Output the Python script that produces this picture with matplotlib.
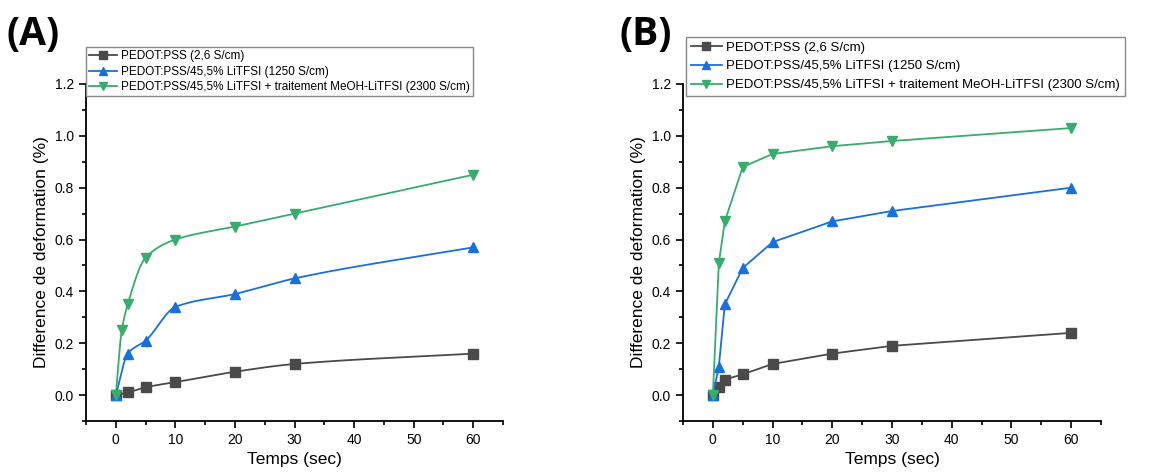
import numpy as np
import matplotlib
matplotlib.use("Agg")
import matplotlib.pyplot as plt
from matplotlib.ticker import MultipleLocator

plt.rcParams['font.family'] = ['Liberation Sans', 'DejaVu Sans']

labels = ["PEDOT:PSS (2,6 S/cm)",
          "PEDOT:PSS/45,5% LiTFSI (1250 S/cm)",
          "PEDOT:PSS/45,5% LiTFSI + traitement MeOH-LiTFSI (2300 S/cm)"]
colors = ['#4a4a4a', '#1a6fdf', '#37ad6b']
markers = ['s', '^', 'v']

# panel A
a_t_pss = [0, 2, 5, 10, 20, 30, 60]
a_pss = [0.0, 0.01, 0.03, 0.05, 0.09, 0.12, 0.16]
a_t_li = [0, 2, 5, 10, 20, 30, 60]
a_li = [0.0, 0.16, 0.21, 0.34, 0.39, 0.45, 0.57]
a_t_meoh = [0, 1, 2, 5, 10, 20, 30, 60]
a_meoh = [0.0, 0.25, 0.35, 0.53, 0.60, 0.65, 0.70, 0.85]

# panel B
b_t = [0, 1, 2, 5, 10, 20, 30, 60]
b_pss = [0.0, 0.03, 0.06, 0.08, 0.12, 0.16, 0.19, 0.24]
b_li = [0.0, 0.11, 0.35, 0.49, 0.59, 0.67, 0.71, 0.80]
b_meoh = [0.0, 0.51, 0.67, 0.88, 0.93, 0.96, 0.98, 1.03]


def pchip(x, y, xs):
    # monotone cubic, only used to draw the smooth line of panel A
    x = np.asarray(x, float)
    y = np.asarray(y, float)
    h = np.diff(x)
    d = np.diff(y) / h
    m = np.zeros_like(y)
    for k in range(1, len(x) - 1):
        if d[k - 1] * d[k] > 0:
            w1 = 2 * h[k] + h[k - 1]
            w2 = h[k] + 2 * h[k - 1]
            m[k] = (w1 + w2) / (w1 / d[k - 1] + w2 / d[k])
    m[0] = d[0]
    m[-1] = d[-1]
    out = np.empty_like(xs)
    for i, v in enumerate(xs):
        k = min(np.searchsorted(x, v, side='right') - 1, len(x) - 2)
        t = (v - x[k]) / h[k]
        h00 = 2 * t**3 - 3 * t**2 + 1
        h10 = t**3 - 2 * t**2 + t
        h01 = -2 * t**3 + 3 * t**2
        h11 = t**3 - t**2
        out[i] = h00 * y[k] + h10 * h[k] * m[k] + h01 * y[k + 1] + h11 * h[k] * m[k + 1]
    return out


def style_axes(ax):
    ax.set_xlim(-5, 65)
    ax.set_ylim(-0.1, 1.2)
    ax.xaxis.set_major_locator(MultipleLocator(10))
    ax.xaxis.set_minor_locator(MultipleLocator(5))
    ax.yaxis.set_major_locator(MultipleLocator(0.2))
    ax.yaxis.set_minor_locator(MultipleLocator(0.1))
    ax.yaxis.set_major_formatter(plt.FormatStrFormatter('%.1f'))
    for s in ['top', 'right']:
        ax.spines[s].set_visible(False)
    for s in ['left', 'bottom']:
        ax.spines[s].set_linewidth(1.3)
    ax.tick_params(which='major', direction='out', length=5, width=1.2, labelsize=10)
    ax.tick_params(which='minor', direction='out', length=3, width=1.2)
    ax.set_xlabel("Temps (sec)", fontsize=12.5)
    ax.set_ylabel("Difference de deformation (%)", fontsize=12.5)


fig = plt.figure(figsize=(11.61, 4.74), dpi=100)
axA = fig.add_axes([0.0741, 0.1118, 0.3592, 0.711])
axB = fig.add_axes([0.5883, 0.1118, 0.3600, 0.711])
for ax in (axA, axB):
    ax.patch.set_alpha(0)

# panel A: smooth lines
setsA = [(a_t_pss, a_pss), (a_t_li, a_li), (a_t_meoh, a_meoh)]
for i, (t, v) in enumerate(setsA):
    xs = np.linspace(0, 60, 400)
    axA.plot(xs, pchip(t, v, xs), color=colors[i], lw=1.3, zorder=2)
    axA.plot(t, v, ls='none', marker=markers[i], ms=7, color=colors[i], zorder=3)
handles = [axA.plot([], [], color=colors[i], lw=1.3, marker=markers[i], ms=7)[0] for i in range(3)]
style_axes(axA)
axA.legend(handles, labels, loc='upper left', bbox_to_anchor=(0.0, 1.11), fontsize=8.5,
           frameon=True, fancybox=False, edgecolor='#888888', framealpha=1,
           handlelength=2.4, handletextpad=0.3, borderpad=0.25, labelspacing=0.32,
           borderaxespad=0, markerscale=0.8)

# panel B: straight lines
for i, v in enumerate([b_pss, b_li, b_meoh]):
    axB.plot(b_t, v, color=colors[i], lw=1.3, marker=markers[i], ms=7, label=labels[i])
style_axes(axB)
axB.legend(loc='upper left', bbox_to_anchor=(0.007, 1.14), fontsize=9.5,
           frameon=True, fancybox=False, edgecolor='#888888', framealpha=1,
           handlelength=2.4, handletextpad=0.3, borderpad=0.35, labelspacing=0.5,
           borderaxespad=0, markerscale=0.8)

fig.text(0.006, 0.968, "(A)", fontsize=28, fontweight='bold', family='Open Sans', va='top')
fig.text(0.534, 0.968, "(B)", fontsize=28, fontweight='bold', family='Open Sans', va='top')

fig.savefig("out.png", dpi=100)
